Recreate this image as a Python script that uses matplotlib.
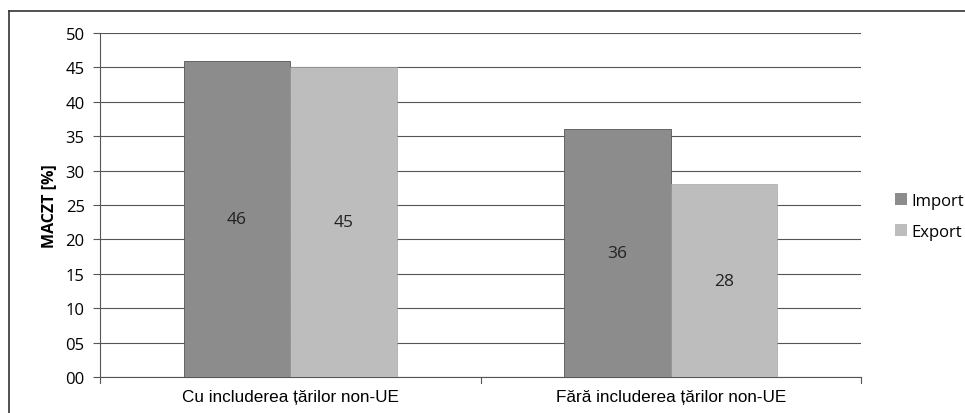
import matplotlib
matplotlib.use("Agg")
import matplotlib.pyplot as plt
from matplotlib.lines import Line2D
from matplotlib.patches import Patch
import numpy as np

categories = ["Cu includerea țărilor non-UE", "Fără includerea țărilor non-UE"]
series_names = ["Import", "Export"]
import_vals = [46, 36]
export_vals = [45, 28]
ytick_values = [0, 5, 10, 15, 20, 25, 30, 35, 40, 45, 50]
ytick_labels = ["00", "05", "10", "15", "20", "25", "30", "35", "40", "45", "50"]
y_label = "MACZT [%]"

import_color = "#8c8c8c"
export_color = "#bdbdbd"
grid_color = "#555555"

fig = plt.figure(figsize=(9.65, 4.14), dpi=100)
ax = fig.add_axes([100 / 965, 36 / 414, 761 / 965, 344 / 414])

x = np.arange(len(categories))
width = 0.28
b1 = ax.bar(x - width / 2, import_vals, width, color=import_color,
            edgecolor="#555555", linewidth=0.6, label=series_names[0], zorder=3)
b2 = ax.bar(x + width / 2, export_vals, width, color=export_color,
            edgecolor="#9a9a9a", linewidth=0.4, label=series_names[1], zorder=3)

for bars, vals in ((b1, import_vals), (b2, export_vals)):
    for rect, v in zip(bars, vals):
        ax.text(rect.get_x() + rect.get_width() / 2, v / 2, f"{v}",
                ha="center", va="center", fontsize=12.5, family="Open Sans",
                color="#222222", zorder=4)

ax.set_xlim(-0.5, 1.5)
ax.set_ylim(0, 50)
ax.set_yticks(ytick_values)
ax.set_yticklabels(ytick_labels, family="Open Sans", fontsize=12)
ax.yaxis.grid(True, color=grid_color, linewidth=0.8, zorder=0)
ax.set_axisbelow(True)

ax.set_xticks(x)
ax.set_xticklabels(categories, family="Liberation Sans", fontsize=12.3)
ax.tick_params(axis="x", length=0, pad=9)
ax.tick_params(axis="y", length=5, width=0.8, color=grid_color, pad=6)
for xb in (-0.5, 0.5, 1.5):
    ax.plot([xb, xb], [0, -0.8], color=grid_color, linewidth=0.8,
            clip_on=False, zorder=2)

ax.set_ylabel(y_label, family="Open Sans", fontweight="bold", fontsize=11.5,
              labelpad=6)

for side in ("top", "right"):
    ax.spines[side].set_visible(False)
ax.spines["left"].set_color(grid_color)
ax.spines["left"].set_linewidth(0.8)
ax.spines["bottom"].set_color(grid_color)
ax.spines["bottom"].set_linewidth(0.8)

handles = [Patch(facecolor=import_color, edgecolor="none"),
           Patch(facecolor=export_color, edgecolor="none")]
fig.legend(handles, series_names, loc="center left",
           bbox_to_anchor=(880 / 965, 0.475), frameon=False,
           prop={"family": "Open Sans", "size": 12},
           handlelength=0.7, handleheight=0.7, handletextpad=0.3,
           labelspacing=0.9)

# frame lines along the top and left of the chart area
fig.add_artist(Line2D([9 / 965, 1.0], [1 - 12 / 414, 1 - 12 / 414],
                      color="#333333", linewidth=1.2, transform=fig.transFigure))
fig.add_artist(Line2D([9 / 965, 9 / 965], [0, 1 - 12 / 414],
                      color="#333333", linewidth=1.2, transform=fig.transFigure))

fig.savefig("out.png", dpi=100, facecolor="white")
